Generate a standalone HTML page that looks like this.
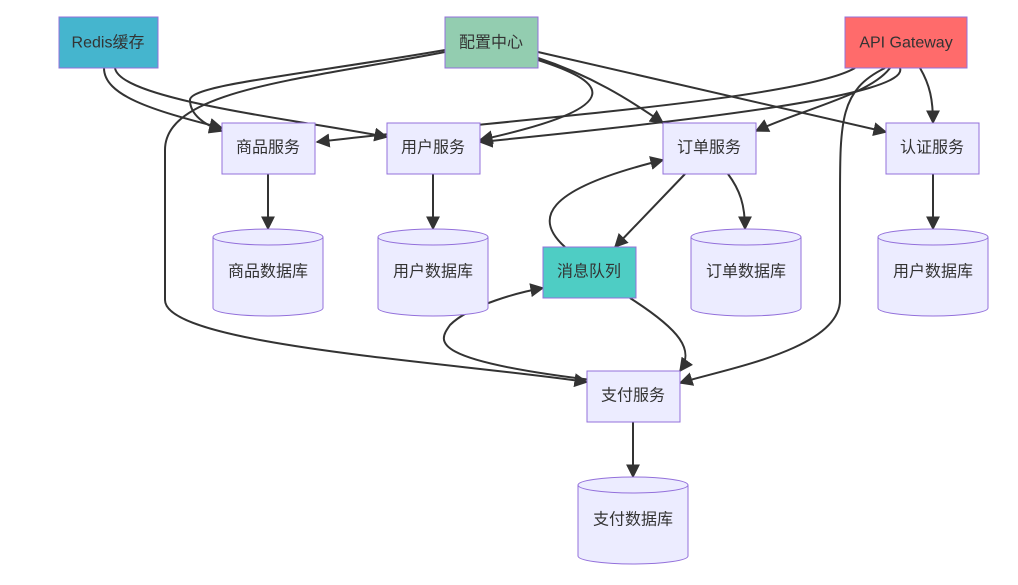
<!DOCTYPE html>
<html><head><meta charset="utf-8"><style>
body{margin:0;background:#fff;}
text{font-family:"Liberation Sans","Noto Sans CJK SC",sans-serif;font-size:16px;fill:#333;text-anchor:middle;dominant-baseline:central;}
.n{fill:#ececff;stroke:#9370db;stroke-width:1;}
.e{fill:none;stroke:#333;stroke-width:2;}
</style></head><body>
<svg width="1018" height="580" viewBox="0 0 1018 580" xmlns="http://www.w3.org/2000/svg">
<defs><marker id="a" viewBox="0 0 10 10" refX="9" refY="5" markerWidth="7" markerHeight="7" orient="auto"><path d="M0,0L10,5L0,10z" fill="#333"/></marker></defs>
<g class="e" marker-end="url(#a)">
<path class="e" d="M104,68 C104,95 150,110 222,128"/>
<path class="e" d="M115,68 C120,100 300,120 387,137"/>
<path class="e" d="M445,50 C300,75 190,85 190,100 C190,115 205,125 222,131"/>
<path class="e" d="M538,60 C600,80 640,105 480,140"/>
<path class="e" d="M538,58 C590,75 630,100 663,123"/>
<path class="e" d="M538,52 L886,132"/>
<path class="e" d="M445,52 C300,80 165,90 165,150 L165,300 C165,345 450,362 587,382"/>
<path class="e" d="M855,68 C800,100 500,120 317,142"/>
<path class="e" d="M900,68 C910,95 700,120 480,142"/>
<path class="e" d="M890,68 C870,95 800,110 756,131"/>
<path class="e" d="M920,68 C930,85 933,100 933,123"/>
<path class="e" d="M885,68 C840,90 840,120 840,200 L840,300 C840,350 720,370 680,383"/>
<path class="e" d="M268,174 L268,229"/>
<path class="e" d="M433,174 L433,229"/>
<path class="e" d="M728,174 C740,190 745,205 745,229"/>
<path class="e" d="M933,174 L933,229"/>
<path class="e" d="M685,174 L615,247"/>
<path class="e" d="M565,247 C535,220 540,190 663,160"/>
<path class="e" d="M630,298 C680,330 695,350 680,371"/>
<path class="e" d="M600,381 C420,360 440,340 450,325 C470,305 520,292 543,288"/>
<path class="e" d="M633,422 L633,477"/>
</g>
<rect x="59" y="17" width="99" height="51" fill="#45b5ce" stroke="#9370db"/><text x="108" y="43">Redis缓存</text>
<rect x="445" y="17" width="93" height="51" fill="#93cdb0" stroke="#9370db"/><text x="491" y="43">配置中心</text>
<rect x="845" y="17" width="122" height="51" fill="#ff6b6b" stroke="#9370db"/><text x="906" y="43">API Gateway</text>
<rect class="n" x="222" y="123" width="93" height="51"/><text x="268" y="148">商品服务</text>
<rect class="n" x="387" y="123" width="93" height="51"/><text x="433" y="148">用户服务</text>
<rect class="n" x="663" y="123" width="93" height="51"/><text x="709" y="148">订单服务</text>
<rect class="n" x="886" y="123" width="93" height="51"/><text x="932" y="148">认证服务</text>
<rect x="543" y="247" width="93" height="51" fill="#4ecdc4" stroke="#9370db"/><text x="589" y="272">消息队列</text>
<rect class="n" x="587" y="371" width="93" height="51"/><text x="633" y="396">支付服务</text>
<g>
<path class="n" d="M213,237 a55,8 0 0,0 110,0 a55,8 0 0,0 -110,0 l0,71 a55,8 0 0,0 110,0 l0,-71"/><text x="268" y="272">商品数据库</text>
<path class="n" d="M378,237 a55,8 0 0,0 110,0 a55,8 0 0,0 -110,0 l0,71 a55,8 0 0,0 110,0 l0,-71"/><text x="433" y="272">用户数据库</text>
<path class="n" d="M691,237 a55,8 0 0,0 110,0 a55,8 0 0,0 -110,0 l0,71 a55,8 0 0,0 110,0 l0,-71"/><text x="746" y="272">订单数据库</text>
<path class="n" d="M878,237 a55,8 0 0,0 110,0 a55,8 0 0,0 -110,0 l0,71 a55,8 0 0,0 110,0 l0,-71"/><text x="933" y="272">用户数据库</text>
<path class="n" d="M578,485 a55,8 0 0,0 110,0 a55,8 0 0,0 -110,0 l0,71 a55,8 0 0,0 110,0 l0,-71"/><text x="633" y="520">支付数据库</text>
</g>
</svg>
</body></html>
